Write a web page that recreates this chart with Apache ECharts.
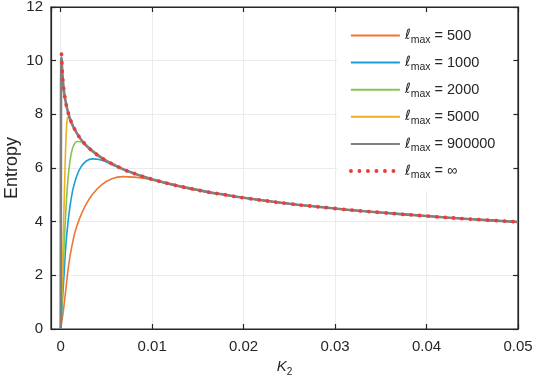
<!DOCTYPE html>
<html>
<head>
<meta charset="utf-8">
<script src="https://cdn.jsdelivr.net/npm/echarts@6/dist/echarts.min.js"></script>
<style>html,body{margin:0;padding:0;background:#fff}#c{width:540px;height:376px}</style>
</head>
<body>
<div id="c"></div>
<script>
// ---- data ----
const seriesNames = ['500', '1000', '2000', '5000', '900000', '\u221E'];
const xTicks = [0, 0.01, 0.02, 0.03, 0.04, 0.05];
const yTicks = [0, 2, 4, 6, 8, 10, 12];

const k2_500 = [0, 0.0003, 0.0005, 0.0007, 0.0009, 0.0012, 0.0016, 0.0021, 0.0027, 0.0035, 0.0045, 0.0056, 0.0068, 0.008, 0.009, 0.01, 0.011, 0.012, 0.014, 0.016, 0.018, 0.02, 0.025, 0.03, 0.035, 0.04, 0.045, 0.05];
const s_500  = [0, 0.7, 1.3, 1.9, 2.45, 3.05, 3.65, 4.15, 4.6, 5.03, 5.38, 5.6, 5.68, 5.66, 5.62, 5.55, 5.47, 5.38, 5.23, 5.10, 4.99, 4.89, 4.67, 4.49, 4.34, 4.21, 4.09, 3.99];

const k2_1000 = [0, 0.00036, 0.00052, 0.0007, 0.00095, 0.0013, 0.0017, 0.0022, 0.0028, 0.0035, 0.0042, 0.005, 0.006, 0.007, 0.008, 0.009, 0.01, 0.012, 0.014, 0.016, 0.018, 0.02, 0.025, 0.03, 0.035, 0.04, 0.045, 0.05];
const s_1000  = [0, 2.0, 2.9, 3.65, 4.4, 5.15, 5.65, 6.03, 6.26, 6.34, 6.32, 6.22, 6.06, 5.92, 5.80, 5.68, 5.58, 5.40, 5.25, 5.11, 5.00, 4.89, 4.67, 4.49, 4.34, 4.21, 4.09, 3.99];

const k2_2000 = [0, 0.00028, 0.0004, 0.00058, 0.00072, 0.00087, 0.00113, 0.0014, 0.0018, 0.0022, 0.0026, 0.003, 0.0035, 0.004, 0.005, 0.006, 0.007, 0.008, 0.009, 0.01, 0.012, 0.014, 0.016, 0.018, 0.02, 0.025, 0.03, 0.035, 0.04, 0.045, 0.05];
const s_2000  = [0, 2.3, 3.3, 4.5, 5.25, 5.85, 6.5, 6.83, 6.99, 6.98, 6.88, 6.75, 6.6, 6.48, 6.27, 6.09, 5.93, 5.80, 5.68, 5.58, 5.40, 5.25, 5.11, 5.00, 4.89, 4.67, 4.49, 4.34, 4.21, 4.09, 3.99];

const k2_5000 = [0, 0.0002, 0.00036, 0.00047, 0.00058, 0.00068, 0.00078, 0.0009, 0.001, 0.0012, 0.0015, 0.002, 0.0025, 0.003, 0.004, 0.005, 0.006, 0.007, 0.008, 0.009, 0.01, 0.012, 0.014, 0.016, 0.018, 0.02, 0.025, 0.03, 0.035, 0.04, 0.045, 0.05];
const s_5000  = [0, 2.5, 4.5, 5.95, 7.1, 7.7, 7.9, 7.86, 7.78, 7.64, 7.46, 7.17, 6.95, 6.77, 6.49, 6.27, 6.09, 5.93, 5.80, 5.68, 5.58, 5.40, 5.25, 5.11, 5.00, 4.89, 4.67, 4.49, 4.34, 4.21, 4.09, 3.99];

const k2_900000 = [0, 0.00003, 0.00006, 0.0001, 0.00015, 0.0002, 0.0003, 0.0004, 0.0005, 0.0007, 0.001, 0.0012, 0.0015, 0.002, 0.0025, 0.003, 0.004, 0.005, 0.006, 0.007, 0.008, 0.009, 0.01, 0.012, 0.014, 0.016, 0.018, 0.02, 0.025, 0.03, 0.035, 0.04, 0.045, 0.05];
const s_900000  = [0, 8.0, 10.0, 10.12, 9.74, 9.45, 9.05, 8.77, 8.55, 8.21, 7.86, 7.68, 7.46, 7.17, 6.95, 6.77, 6.49, 6.27, 6.09, 5.93, 5.80, 5.68, 5.58, 5.40, 5.25, 5.11, 5.00, 4.89, 4.67, 4.49, 4.34, 4.21, 4.09, 3.99];

const k2_inf = [0.00009, 0.0001, 0.00015, 0.0002, 0.0003, 0.0004, 0.0005, 0.0007, 0.001, 0.0012, 0.0015, 0.002, 0.0025, 0.003, 0.004, 0.005, 0.006, 0.007, 0.008, 0.009, 0.01, 0.012, 0.014, 0.016, 0.018, 0.02, 0.025, 0.03, 0.035, 0.04, 0.045, 0.05];
const s_inf  = [10.24, 10.14, 9.74, 9.45, 9.05, 8.77, 8.55, 8.21, 7.86, 7.68, 7.46, 7.17, 6.95, 6.77, 6.49, 6.27, 6.09, 5.93, 5.80, 5.68, 5.58, 5.40, 5.25, 5.11, 5.00, 4.89, 4.67, 4.49, 4.34, 4.21, 4.09, 3.99];

// ---- styling ----
const FONT = '"Liberation Sans", Arial, Helvetica, sans-serif';
const INK = '#262626';
const colors = ['#EE7733', '#1A9ED9', '#84C450', '#EDB120', '#808080', '#F03A3A'];
const xs = [k2_500, k2_1000, k2_2000, k2_5000, k2_900000, k2_inf];
const ys = [s_500, s_1000, s_2000, s_5000, s_900000, s_inf];
const pair = (a, b) => a.map((v, i) => [v, b[i]]);
const dotStyle = { width: 3.8, type: [0.1, 8.4], cap: 'round' };

const series = seriesNames.map((name, i) => {
  const isInf = i === 5;
  return {
    name: name,
    type: 'line',
    data: pair(xs[i], ys[i]),
    symbol: 'none',
    smooth: 0.4,
    color: colors[i],
    z: 2 + i,
    lineStyle: isInf
      ? Object.assign({ color: colors[i] }, dotStyle)
      : { color: colors[i], width: i === 4 ? 2.6 : 1.6 },
    emphasis: { disabled: true },
    animation: false
  };
});

const isTick = (v, step) => Math.abs(v / step - Math.round(v / step)) < 1e-6;

const chart = echarts.init(document.getElementById('c'), null, { renderer: 'canvas' });
chart.setOption({
  animation: false,
  backgroundColor: '#fff',
  textStyle: { fontFamily: FONT },
  grid: { left: 51, right: 22, top: 7, bottom: 47, outerBoundsMode: 'none', containLabel: false,
    show: true, borderColor: INK, borderWidth: 1.2, backgroundColor: 'transparent' },
  legend: {
    orient: 'vertical',
    left: 337, top: 16,
    backgroundColor: '#fff',
    padding: [12, 18, 10, 12],
    itemWidth: 49, itemHeight: 14, itemGap: 9.6,
    itemStyle: { opacity: 0 },
    data: seriesNames.map((n, i) => i === 5
      ? { name: n, lineStyle: Object.assign({ color: colors[i] }, dotStyle) }
      : { name: n }),
    formatter: n => '{l|\u2113}{m|max}{t| = ' + n + '}',
    textStyle: {
      fontFamily: FONT, color: INK,
      rich: {
        l: { fontFamily: '"DejaVu Sans", ' + FONT, fontSize: 14, fontStyle: 'italic', color: INK },
        m: { fontFamily: FONT, fontSize: 10.5, color: INK, padding: [9, 0, 0, 0] },
        t: { fontFamily: FONT, fontSize: 14.5, color: INK }
      }
    }
  },
  xAxis: [{
    type: 'value', min: -0.00106, max: 0.05, splitNumber: 5,
    name: '{k|K}{s|2}', nameLocation: 'middle', nameGap: 28, nameMoveOverlap: false,
    nameTextStyle: { rich: {
      k: { fontFamily: FONT, fontSize: 15, fontStyle: 'italic', color: INK },
      s: { fontFamily: FONT, fontSize: 10, color: INK, padding: [10, 0, 0, 0] }
    } },
    axisLine: { show: true, onZero: false, lineStyle: { color: INK, width: 1.2 } },
    axisTick: { show: true, inside: true, length: 5, lineStyle: { color: INK, width: 1.2 } },
    axisLabel: { showMinLabel: false, margin: 10, color: INK, fontSize: 15, fontFamily: FONT,
      formatter: v => isTick(v, 0.01) ? (Math.abs(v) < 1e-9 ? '0' : String(+v.toFixed(2))) : '' },
    splitLine: { show: true, lineStyle: { color: '#EBEBEB', width: 1 } }
  }, {
    type: 'value', position: 'top', min: -0.00106, max: 0.05, splitNumber: 5,
    axisLine: { show: true, onZero: false, lineStyle: { color: INK, width: 1.2 } },
    axisTick: { show: true, inside: true, length: 5, lineStyle: { color: INK, width: 1.2 } },
    axisLabel: { show: false }, splitLine: { show: false }
  }],
  yAxis: [{
    type: 'value', min: 0, max: 12, interval: 2,
    name: 'Entropy', nameLocation: 'middle', nameGap: 30, nameMoveOverlap: false,
    nameTextStyle: { fontFamily: FONT, fontSize: 18, color: INK },
    axisLine: { show: true, onZero: false, lineStyle: { color: INK, width: 1.2 } },
    axisTick: { show: true, inside: true, length: 5, lineStyle: { color: INK, width: 1.2 } },
    axisLabel: { margin: 8, color: INK, fontSize: 15, fontFamily: FONT },
    splitLine: { show: true, lineStyle: { color: '#EBEBEB', width: 1 } }
  }, {
    type: 'value', position: 'right', min: 0, max: 12, interval: 2,
    axisLine: { show: true, onZero: false, lineStyle: { color: INK, width: 1.2 } },
    axisTick: { show: true, inside: true, length: 5, lineStyle: { color: INK, width: 1.2 } },
    axisLabel: { show: false }, splitLine: { show: false }
  }],
  series: series
});
</script>
</body>
</html>
